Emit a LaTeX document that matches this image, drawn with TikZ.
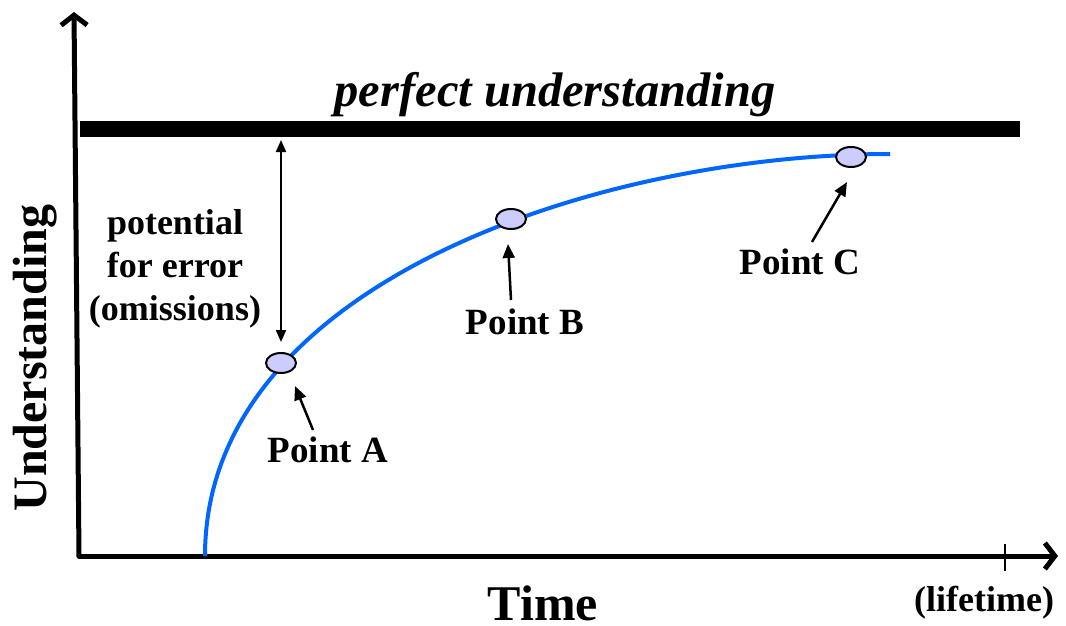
\documentclass[tikz,border=0pt]{standalone}
\usepackage{fontspec}
\setmainfont{Liberation Serif}
\usetikzlibrary{arrows.meta,shapes.geometric}
\definecolor{curveblue}{RGB}{0,102,255}
\definecolor{ptfill}{RGB}{204,204,255}
\tikzset{
  axis/.style={line width=5pt, line cap=round, line join=round},
  pt/.style={ellipse, draw=black, line width=2pt, fill=ptfill, minimum width=30pt, minimum height=20pt, inner sep=0pt},
  ptarrow/.style={line width=2.5pt, -{Triangle[length=14pt,width=12pt]}},
  lbl/.style={font=\bfseries\fontsize{37}{43}\selectfont, inner sep=0pt},
}
\begin{document}
\begin{tikzpicture}[x=1pt,y=-1pt]
\useasboundingbox (0,0) rectangle (1066,626);
% axes
\coordinate (ytop) at (74,12);
\coordinate (orig) at (79,556);
\coordinate (xend) at (1058,556);
\draw[axis, -{Straight Barb[length=10pt,width=26pt]}] (orig) -- (ytop);
\draw[axis, -{Straight Barb[length=10pt,width=26pt]}] (orig) -- (xend);
\coordinate (tickt) at (1005,544);
\coordinate (tickb) at (1005,571);
\draw[line width=1.5pt] (tickt) -- (tickb);
% perfect understanding bar
\coordinate (barl) at (80,129);
\coordinate (barr) at (1020,129);
\draw[line width=16pt] (barl) -- (barr);
\node[font=\bfseries\itshape\fontsize{48.5}{52}\selectfont, inner sep=0pt] (perf) at (555,95) {perfect understanding};
% curve
\coordinate (cs) at (205,556);
\coordinate (ce) at (890,154);
\draw[curveblue, line width=4pt] (cs) .. controls (205,281) and (604,154) .. (ce);
% points
\node[pt] (ptA) at (281,363) {};
\node[pt] (ptB) at (511,219) {};
\node[pt] (ptC) at (851,157) {};
% labels
\node[lbl] (labA) at (328,450) {Point A};
\node[lbl] (labB) at (525,322) {Point B};
\node[lbl] (labC) at (800,262) {Point C};
\coordinate (aA) at (313,430);
\coordinate (tA) at (295,386);
\coordinate (aB) at (511,300);
\coordinate (tB) at (508,244);
\coordinate (aC) at (812,242);
\coordinate (tC) at (847,182);
\draw[ptarrow] (aA) -- (tA);
\draw[ptarrow] (aB) -- (tB);
\draw[ptarrow] (aC) -- (tC);
% potential for error
\coordinate (gapt) at (281,140);
\coordinate (gapb) at (281,342);
\draw[line width=2pt, {Triangle[length=12pt,width=10pt]}-{Triangle[length=12pt,width=10pt]}] (gapt) -- (gapb);
\node[lbl, align=center, font=\bfseries\fontsize{36}{43}\selectfont] (pot) at (175,269) {potential\\for error\\(omissions)};
% axis titles
\node[font=\bfseries\fontsize{48}{52}\selectfont, rotate=90, inner sep=0pt] (ylab) at (35,358) {Understanding};
\node[font=\bfseries\fontsize{50}{54}\selectfont, inner sep=0pt] (xlab) at (543,603) {Time};
\node[font=\bfseries\fontsize{36}{40}\selectfont, inner sep=0pt] (life) at (984,603) {(lifetime)};
\end{tikzpicture}
\end{document}
